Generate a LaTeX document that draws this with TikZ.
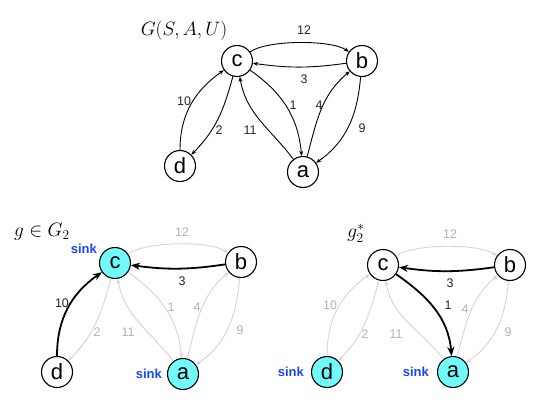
\documentclass[tikz,border=0pt]{standalone}
\usepackage{fontspec}
\setmainfont{Liberation Sans}
\usetikzlibrary{arrows.meta}
\definecolor{cyanfill}{RGB}{112,250,250}
\definecolor{sinkblue}{RGB}{25,70,250}
\definecolor{lightg}{RGB}{212,212,212}
\definecolor{labgray}{RGB}{178,178,178}
\tikzset{
  st/.style={circle, draw, line width=1.1pt, minimum size=31pt, inner sep=0pt, font=\fontsize{22}{22}\selectfont},
  sinknode/.style={st, fill=cyanfill},
  edge n/.style={line width=0.9pt, -{Stealth[length=5pt,width=4pt]}},
  edge g/.style={line width=0.9pt, draw=lightg, -{Stealth[length=5pt,width=4pt]}},
  edge b/.style={line width=1.8pt, -{Stealth[length=9pt,width=7pt]}},
  lab n/.style={font=\fontsize{12.5}{12.5}\selectfont, text=black!85, inner sep=0pt},
  lab g/.style={lab n, text=labgray},
  lab b/.style={lab n},
  sinklab/.style={font=\bfseries\fontsize{13}{13}\selectfont, text=sinkblue, inner sep=0pt},
  ttl/.style={font=\fontsize{17}{17}\selectfont, inner sep=0pt}
}
\def\lonepos{(56,-44)}
\newcommand{\gedges}[9]{%
 \draw[edge #2] (#1c) to[out=35,in=145,looseness=0.55] (#1b);
 \node[lab #2] (#1l12) at (67,31) {12};
 \draw[edge #3] (#1b) to[bend left=8] (#1c);
 \node[lab #3] (#1l3) at (67,-18) {3};
 \draw[edge #4] (#1d) to[out=90,in=215] (#1c);
 \node[lab #4] (#1l10) at (-53,-40) {10};
 \draw[edge #5] (#1c) to[out=-105,in=45] (#1d);
 \node[lab #5] (#1l2) at (-18,-69) {2};
 \draw[edge #6] (#1a) to[out=127,in=-80] (#1c);
 \node[lab #6] (#1l11) at (13,-69) {11};
 \draw[edge #7] (#1c) to[out=-35,in=95] (#1a);
 \node[lab #7] (#1l1) at \lonepos {1};
 \draw[edge #8] (#1a) to[out=75,in=220] (#1b);
 \node[lab #8] (#1l4) at (82,-44) {4};
 \draw[edge #9] (#1b) to[out=-95,in=35] (#1a);
 \node[lab #9] (#1l9) at (125,-67) {9};
}
\begin{document}
\begin{tikzpicture}[x=1pt,y=1pt]
\useasboundingbox (0,0) rectangle (540,-417);
% top panel
\node[ttl] (t0) at (184,-31) {\scalebox{1.12}{$G(S,A,U)$}};
\begin{scope}[shift={(237,-61)}]
 \node[st] (tc) at (0,0) {c};
 \node[st] (tb) at (125,0) {b};
 \node[st] (td) at (-57,-105) {d};
 \node[st] (ta) at (66,-111) {a};
 \gedges{t}{n}{n}{n}{n}{n}{n}{n}{n}
\end{scope}
% bottom left panel
\node[ttl] (l0) at (42,-232) {\scalebox{1.12}{$g\in G_2$}};
\begin{scope}[shift={(115,-263)}]
 \node[sinknode] (lc) at (0,0) {c};
 \node[st] (lb) at (126,1) {b};
 \node[st] (ld) at (-58,-109) {d};
 \node[sinknode] (la) at (68,-111) {a};
 \gedges{l}{g}{b}{b}{g}{g}{g}{g}{g}
\end{scope}
\node[sinklab, anchor=east] (ls1) at (97,-249) {sink};
\node[sinklab, anchor=east] (ls2) at (162,-374) {sink};
% bottom right panel
\node[ttl] (r0) at (356,-233) {\scalebox{1.12}{$g_2^*$}};
\def\lonepos{(65,-40)}
\begin{scope}[shift={(383,-265)}]
 \node[st] (rc) at (0,0) {c};
 \node[st] (rb) at (127,0) {b};
 \node[sinknode] (rd) at (-56,-107) {d};
 \node[sinknode] (ra) at (70,-107) {a};
 \gedges{r}{g}{b}{g}{g}{g}{b}{g}{g}
\end{scope}
\node[sinklab, anchor=east] (rs1) at (304,-372) {sink};
\node[sinklab, anchor=east] (rs2) at (429,-372) {sink};
\end{tikzpicture}
\end{document}
